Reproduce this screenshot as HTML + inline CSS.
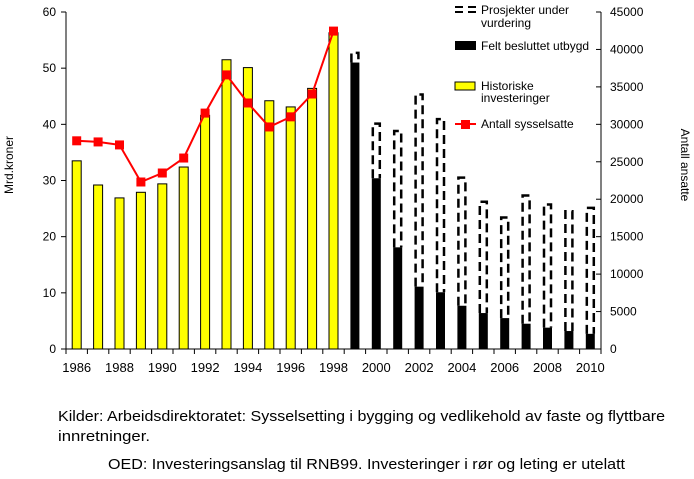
<!DOCTYPE html>
<html><head><meta charset="utf-8"><style>
body{margin:0;background:#fff;}
svg text{font-family:"Liberation Sans",sans-serif;}
</style></head><body>
<svg id="c" width="694" height="474" xmlns="http://www.w3.org/2000/svg"></svg>
<script>
const years=[1986,1987,1988,1989,1990,1991,1992,1993,1994,1995,1996,1997,1998,1999,2000,2001,2002,2003,2004,2005,2006,2007,2008,2009,2010];
const historical=[33.5,29.2,26.9,27.9,29.4,32.4,41.6,51.5,50.1,44.2,43.1,46.4,56.3];
const decided=[51.0,30.4,18.1,11.1,10.1,7.7,6.4,5.5,4.5,3.8,3.2,2.7];
const totalPlanned=[52.9,40.3,39.0,45.5,41.1,30.7,26.4,23.6,27.5,25.9,24.7,25.3];
const employees=[27800,27650,27250,22300,23500,25500,31500,36600,32850,29650,31000,34050,42450];
const leftTicks=[0,10,20,30,40,50,60];
const rightTicks=[0,5000,10000,15000,20000,25000,30000,35000,40000,45000];
const svg=document.getElementById('c');const NS='http://www.w3.org/2000/svg';
const X0=66,X1=601,Y0=349,Y1=12;
const cw=(X1-X0)/years.length;
const xc=i=>X0+cw*(i+0.5);
const yL=v=>Y0-(v/60)*(Y0-Y1);
const yR=v=>Y0-(v/45000)*(Y0-Y1);
function el(t,a,txt){const e=document.createElementNS(NS,t);for(const k in a)e.setAttribute(k,a[k]);if(txt!=null)e.textContent=txt;svg.appendChild(e);return e;}
const bw=9;
historical.forEach((v,i)=>{const e=el('rect',{x:xc(i)-bw/2,y:yL(v),width:bw,height:Y0-yL(v),fill:'#ffff00',stroke:'#000','stroke-width':1});

});
decided.forEach((v,j)=>{const i=j+historical.length;
const t=totalPlanned[j];
const p=el('path',{d:`M${xc(i)-bw/2+1},${yL(v)} V${yL(t)+1} H${xc(i)+bw/2-1} V${yL(v)}`,fill:'none',stroke:'#000','stroke-width':2.5,'stroke-dasharray':'9,5'});


const r=el('rect',{x:xc(i)-bw/2,y:yL(v),width:bw,height:Y0-yL(v),fill:'#000'});

});
const pts=employees.map((v,i)=>xc(i)+','+yR(v)).join(' ');
const ln=el('polyline',{points:pts,fill:'none',stroke:'#ff0000','stroke-width':2});


employees.forEach((v,i)=>{const m=el('rect',{x:xc(i)-4.5,y:yR(v)-4.5,width:9,height:9,fill:'#ff0000'});

});
el('line',{x1:X0,y1:Y1,x2:X0,y2:Y0,stroke:'#000'});
el('line',{x1:X0,y1:Y0,x2:X1,y2:Y0,stroke:'#000'});
el('line',{x1:X1,y1:Y1,x2:X1,y2:Y0,stroke:'#000'});
leftTicks.forEach(v=>{el('line',{x1:X0-5,y1:yL(v),x2:X0,y2:yL(v),stroke:'#000'});
const t=el('text',{x:X0-10,y:yL(v)+4,'font-size':12,'text-anchor':'end'},v);

});
rightTicks.forEach(v=>{el('line',{x1:X1-5,y1:yR(v),x2:X1,y2:yR(v),stroke:'#000'});
const t=el('text',{x:X1+9,y:yR(v)+4,'font-size':12},v);

});
for(let i=0;i<=years.length;i++){const x=X0+cw*i;el('line',{x1:x,y1:Y0,x2:x,y2:Y0+5,stroke:'#000'});}
years.forEach((y,i)=>{if(i%2===0){const t=el('text',{x:xc(i),y:Y0+23,'font-size':13,'text-anchor':'middle'},y);

}});
</script>
<script>
(function(){const svg=document.getElementById('c');const NS='http://www.w3.org/2000/svg';
function el(t,a,txt){const e=document.createElementNS(NS,t);for(const k in a)e.setAttribute(k,a[k]);if(txt!=null)e.textContent=txt;svg.appendChild(e);return e;}
let t=el('text',{x:0,y:0,'font-size':12,transform:'translate(13,165) rotate(-90)','text-anchor':'middle'},'Mrd.kroner');

t=el('text',{x:0,y:0,'font-size':12,transform:'translate(681,165) rotate(90)','text-anchor':'middle'},'Antall ansatte');

const g=el('g',{});
el('path',{d:'M455,7 H476 M455,12 H476',stroke:'#000','stroke-width':2,'stroke-dasharray':'8,5',fill:'none'});
el('text',{x:481,y:14,'font-size':12},'Prosjekter under');
el('text',{x:481,y:27,'font-size':12},'vurdering');
el('rect',{x:455,y:41,width:21,height:9,fill:'#000'});
el('text',{x:481,y:50,'font-size':12},'Felt besluttet utbygd');
el('rect',{x:455,y:82,width:20,height:8,fill:'#ffff00',stroke:'#000'});
el('text',{x:481,y:90,'font-size':12},'Historiske');
el('text',{x:481,y:102,'font-size':12},'investeringer');
el('line',{x1:455,y1:124,x2:476,y2:124,stroke:'#ff0000','stroke-width':2});
el('rect',{x:461,y:120,width:9,height:9,fill:'#ff0000'});
el('text',{x:481,y:128,'font-size':12},'Antall sysselsatte');
t=el('text',{x:58,y:421,'font-size':15,textLength:607,lengthAdjust:'spacingAndGlyphs'},'Kilder: Arbeidsdirektoratet: Sysselsetting i bygging og vedlikehold av faste og flyttbare');

el('text',{x:58,y:441,'font-size':15,textLength:92,lengthAdjust:'spacingAndGlyphs'},'innretninger.');
t=el('text',{x:108,y:469,'font-size':15,textLength:517,lengthAdjust:'spacingAndGlyphs'},'OED: Investeringsanslag til RNB99. Investeringer i rør og leting er utelatt');

})();
</script>
</body></html>
